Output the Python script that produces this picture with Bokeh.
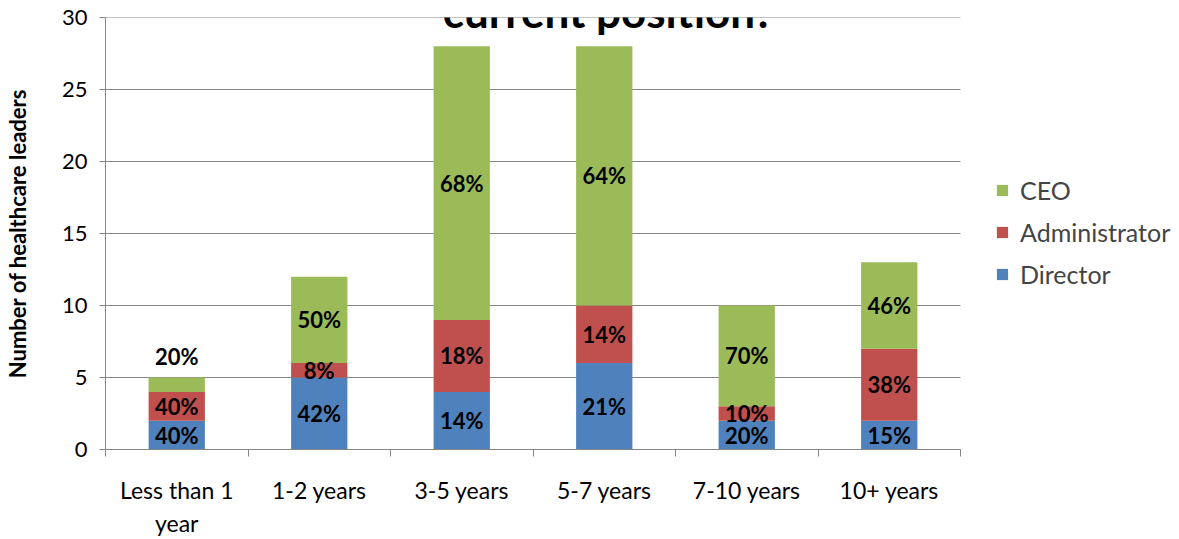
from bokeh.plotting import figure
from bokeh.models import ColumnDataSource, FixedTicker, Legend, LegendItem, Label, Range1d
from bokeh.embed import file_html
from bokeh.resources import INLINE
from bokeh.core.properties import value

# ---- data ----
categories = ["Less than 1\nyear", "1-2 years", "3-5 years", "5-7 years", "7-10 years", "10+ years"]
director = [2, 5, 4, 6, 2, 2]
administrator = [2, 1, 5, 4, 1, 5]
ceo = [1, 6, 19, 18, 7, 6]
series_names = ["Director", "Administrator", "CEO"]
colors = ["#4F81BD", "#C0504D", "#9BBB59"]
y_ticks = [0, 5, 10, 15, 20, 25, 30]
title_text = "current position?"
y_label = "Number of healthcare leaders"

FONT = "Lato"
GRAY = "#868686"

n = len(categories)
xc = [i + 0.5 for i in range(n)]
source = ColumnDataSource(dict(x=xc, Director=director, Administrator=administrator, CEO=ceo))

# frame extends to the right so the legend can sit inside it; the axis and grid stop at n
p = figure(frame_width=1072, frame_height=432, x_range=Range1d(0, 7.5228), y_range=Range1d(0, 30),
           output_backend="svg", toolbar_location=None,
           min_border_left=102, min_border_right=0, min_border_top=17, min_border_bottom=90)
p.outline_line_color = None
p.background_fill_color = "white"

# horizontal grid lines over the category area
p.xgrid.visible = False
p.ygrid.visible = False
p.segment(x0=[0] * len(y_ticks), x1=[n] * len(y_ticks), y0=y_ticks, y1=y_ticks,
          line_color=GRAY, line_width=1)

rs = p.vbar_stack(series_names, x="x", width=0.395, color=colors, line_color=None, source=source)

# data labels (percent of each bar)
lx, ly, lt, loff = [], [], [], []
for i in range(n):
    tot = director[i] + administrator[i] + ceo[i]
    base = 0
    for vals in (director, administrator, ceo):
        v = vals[i]
        lx.append(xc[i])
        ly.append(base + v / 2)
        lt.append(f"{round(100 * v / tot + 1e-9):.0f}%")
        loff.append(0)
        base += v
# Excel label for the tiny first CEO segment was dragged above the bar
loff[2] = -28
lsrc = ColumnDataSource(dict(x=lx, y=ly, t=lt, off=loff))
p.text(x="x", y="y", text="t", y_offset="off", source=lsrc, text_align="center",
       text_baseline="middle", text_font=value(FONT), text_font_style="bold",
       text_font_size="22px", text_color="black")

# y axis
ya = p.yaxis[0]
ya.ticker = FixedTicker(ticks=y_ticks)
ya.axis_line_color = GRAY
ya.major_tick_line_color = GRAY
ya.major_tick_out = 6
ya.major_tick_in = 0
ya.minor_tick_line_color = None
ya.major_label_standoff = 12
ya.major_label_text_font = FONT
ya.major_label_text_font_size = "22px"
ya.major_label_text_color = "black"
ya.axis_label = y_label
ya.axis_label_text_font = FONT
ya.axis_label_text_font_style = "bold"
ya.axis_label_text_font_size = "22px"
ya.axis_label_text_color = "black"
ya.axis_label_standoff = 28

# x axis
xa = p.xaxis[0]
xa.bounds = (0, n)
xa.ticker = FixedTicker(ticks=xc, minor_ticks=list(range(n + 1)))
xa.major_label_overrides = {xc[i]: categories[i] for i in range(n)}
xa.axis_line_color = GRAY
xa.major_tick_line_color = None
xa.major_tick_out = 0
xa.major_tick_in = 0
xa.minor_tick_line_color = GRAY
xa.minor_tick_out = 7
xa.minor_tick_in = 0
xa.major_label_standoff = 19
xa.major_label_text_font = FONT
xa.major_label_text_font_size = "23px"
xa.major_label_text_color = "black"

# legend
items = [LegendItem(label=series_names[k], renderers=[rs[k]]) for k in (2, 1, 0)]
legend = Legend(items=items, location=(890, 160), border_line_color=None,
                background_fill_alpha=0, glyph_width=14, glyph_height=14,
                label_text_font=FONT, label_text_font_size="25px", label_standoff=11,
                spacing=12, margin=0, padding=0)
p.add_layout(legend)

# title (top part falls outside the picture, as in the original)
title = Label(x=3.53, y=30.42, text=title_text, text_align="center", text_baseline="alphabetic",
              text_font=FONT, text_font_style="bold", text_font_size="44px", text_color="black")
p.add_layout(title)

open("out.html", "w").write(file_html(p, INLINE))
